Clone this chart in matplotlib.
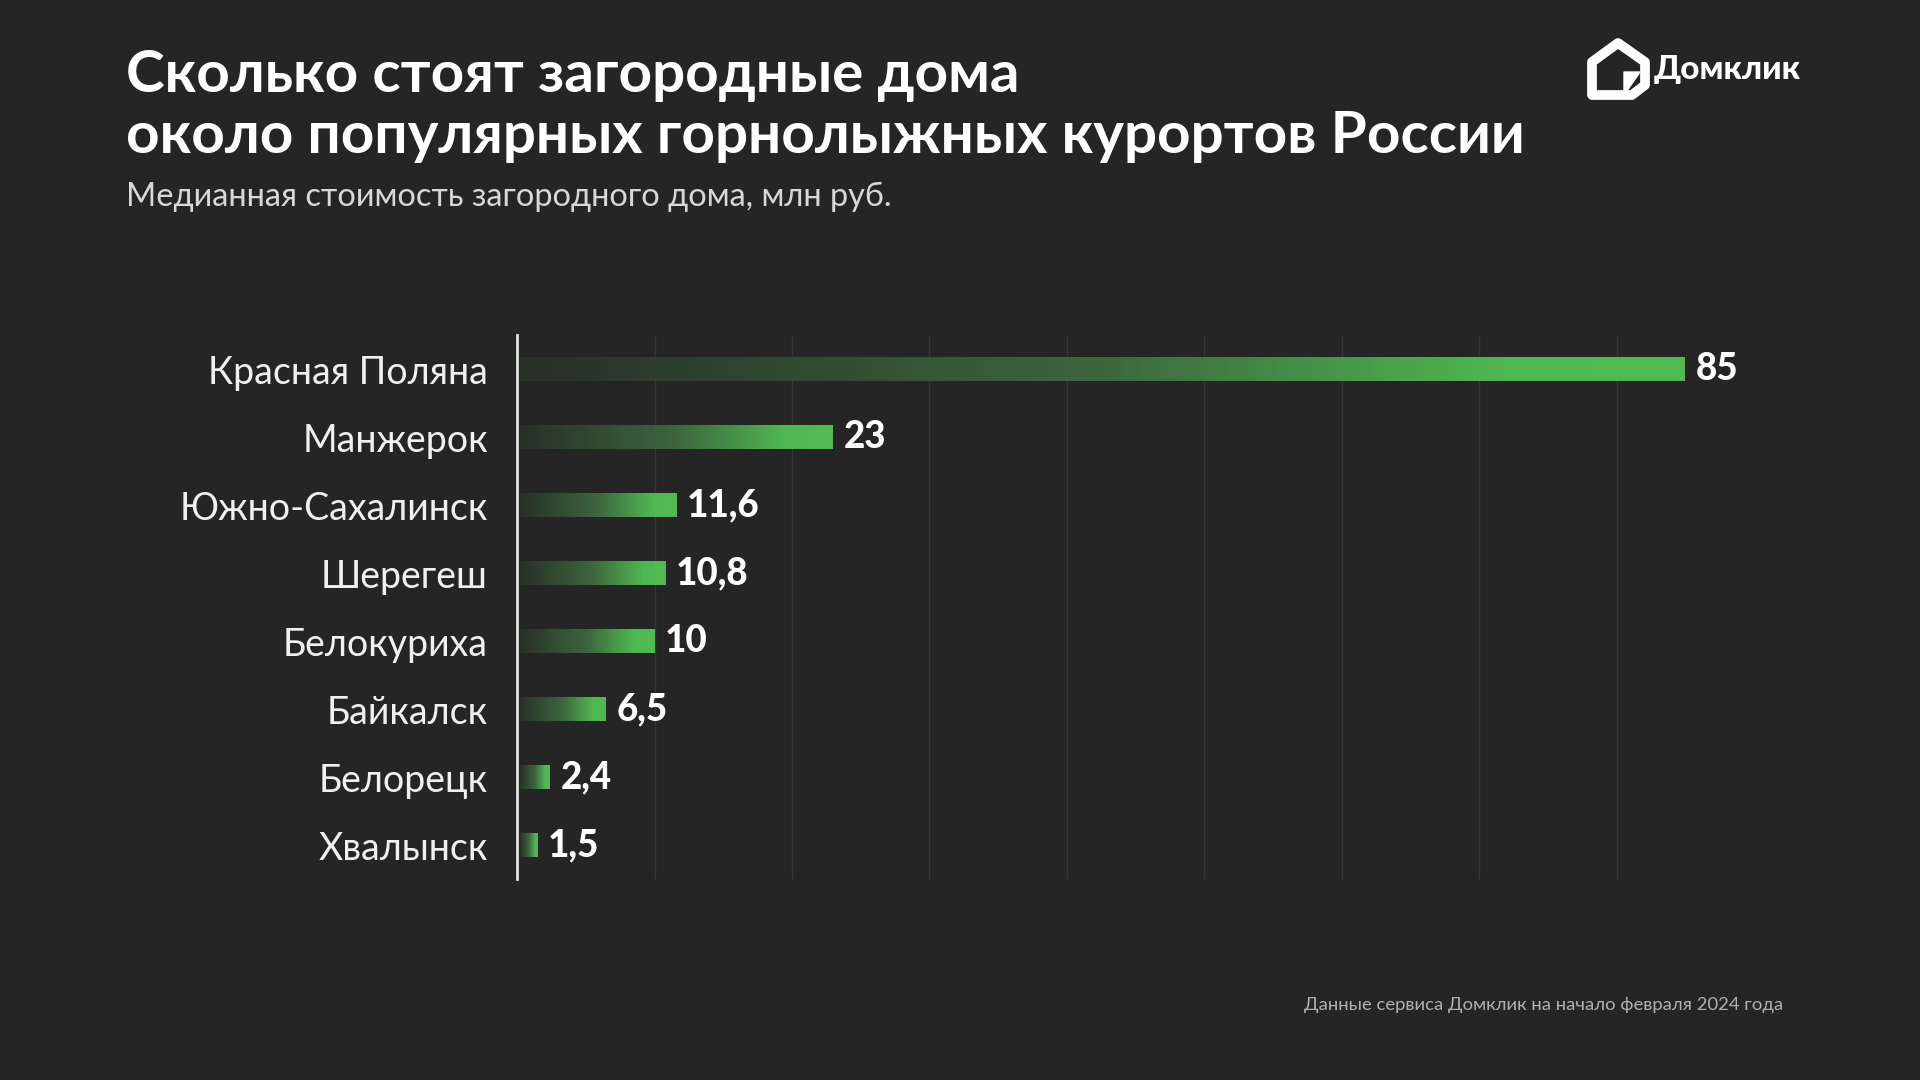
import numpy as np
import matplotlib.pyplot as plt
from matplotlib.colors import LinearSegmentedColormap
from matplotlib.patches import Polygon

# data
resorts = ["Красная Поляна", "Манжерок", "Южно-Сахалинск", "Шерегеш",
           "Белокуриха", "Байкалск", "Белорецк", "Хвалынск"]
prices = [85, 23, 11.6, 10.8, 10, 6.5, 2.4, 1.5]
price_labels = ["85", "23", "11,6", "10,8", "10", "6,5", "2,4", "1,5"]

title = "Сколько стоят загородные дома\nоколо популярных горнолыжных курортов России"
subtitle = "Медианная стоимость загородного дома, млн руб."
source = "Данные сервиса Домклик на начало февраля 2024 года"

bg = "#252525"
plt.rcParams['font.family'] = ['Lato', 'DejaVu Sans']

fig = plt.figure(figsize=(19.2, 10.8), dpi=100, facecolor=bg)
ax = fig.add_axes([0.2693, 0.1861, 0.6443, 0.5037])
ax.set_facecolor(bg)

# gradient from dark to green
cmap = LinearSegmentedColormap.from_list(
    "grn", [(0, "#283028"), (0.5, "#3d663e"), (0.85, "#50b852"), (1, "#52ba53")])
grad = np.linspace(0, 1, 256).reshape(1, -1)

bar_h = 0.34
n = len(resorts)
for i, (v, lab) in enumerate(zip(prices, price_labels)):
    y = n - 1 - i
    ax.imshow(grad, cmap=cmap, aspect="auto", interpolation="bicubic",
              extent=[0.25, v, y - bar_h / 2, y + bar_h / 2], zorder=2)
    ax.text(v + 0.75, y, lab, color="white", fontsize=26.5, fontweight=900,
            va="center", ha="left")

ax.set_xlim(0, 90)
ax.set_ylim(-0.5, n - 0.5)
ax.set_yticks(range(n))
ax.set_yticklabels(resorts[::-1], fontsize=27, color="#f0f0f0")
ax.tick_params(axis="y", length=0, pad=21)
ax.set_xticks(np.arange(10, 91, 10))
ax.tick_params(axis="x", length=0, labelbottom=False)
ax.grid(axis="x", color="#363636", linewidth=1)
ax.set_axisbelow(True)
for s in ["top", "right", "bottom"]:
    ax.spines[s].set_visible(False)
ax.spines["left"].set_color("#e6e6e6")
ax.spines["left"].set_linewidth(2)

# titles
fig.text(0.0656, 0.955, title, color="white", fontsize=42, fontweight="bold",
         va="top", ha="left", linespacing=1.2)
fig.text(0.0656, 0.8176, subtitle, color="#d8d8d8", fontsize=23.4,
         va="center", ha="left")
fig.text(0.9286, 0.0694, source, color="#b0b0b0", fontsize=13.3,
         va="center", ha="right")

# logo
house = [(1592, 1080 - 95), (1592, 1080 - 62), (1618, 1080 - 43),
         (1645, 1080 - 62), (1645, 1080 - 85), (1632, 1080 - 95)]
fig.patches.append(Polygon([(x / 1920, y / 1080) for x, y in house], closed=True,
                           facecolor="none", edgecolor="white", linewidth=7,
                           joinstyle="round", transform=fig.transFigure))
fig.patches.append(Polygon([(1624 / 1920, 1 - 95 / 1080),
                            (1640 / 1920, 1 - 72 / 1080),
                            (1624 / 1920, 1 - 72 / 1080)], closed=True,
                           facecolor="white", edgecolor="white",
                           transform=fig.transFigure))
fig.text(1654 / 1920, 1 - 69 / 1080, "Домклик", color="white", fontsize=24,
         fontweight=900, va="center", ha="left")

fig.savefig("out.png", facecolor=bg)
